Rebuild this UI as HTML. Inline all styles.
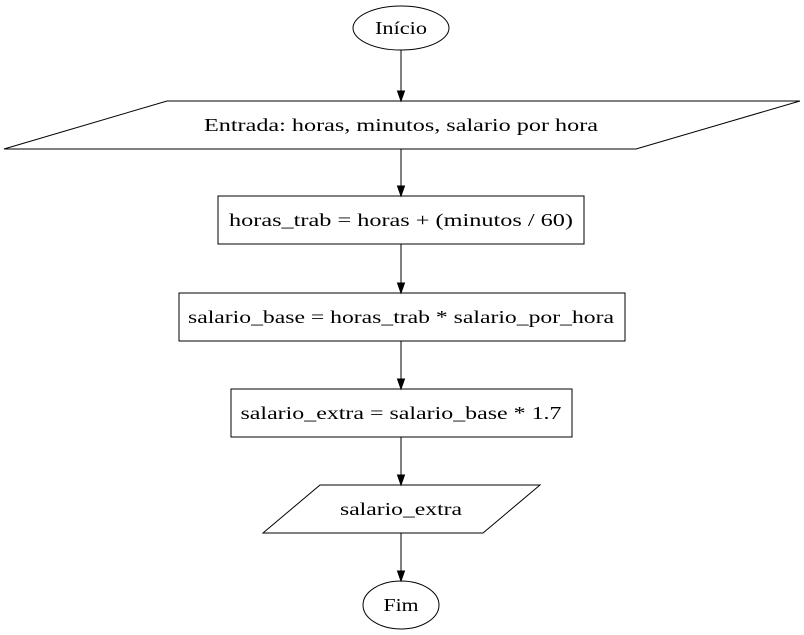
<!DOCTYPE html>
<html><head><meta charset="utf-8"><style>
html,body{margin:0;padding:0;background:#fff;}
svg{display:block;}
text{font-family:"Liberation Serif",serif;font-size:18px;fill:#000;}
</style></head><body>
<svg width="804" height="635" viewBox="0 0 804 635" xmlns="http://www.w3.org/2000/svg">
<g fill="none" stroke="#000" stroke-width="1">
<ellipse cx="401" cy="28" rx="48" ry="22"/>
<polygon points="167,101 800,101 636,149 4,149"/>
<rect x="218" y="196" width="366" height="48"/>
<rect x="179" y="293" width="446" height="48"/>
<rect x="231" y="389" width="341" height="48"/>
<polygon points="320,485 540,485 483,533 263,533"/>
<ellipse cx="401" cy="605" rx="38" ry="24"/>
<line x1="401" y1="50" x2="401" y2="91"/>
<line x1="401" y1="149" x2="401" y2="186"/>
<line x1="401" y1="244" x2="401" y2="283"/>
<line x1="401" y1="341" x2="401" y2="379"/>
<line x1="401" y1="437" x2="401" y2="475"/>
<line x1="401" y1="533" x2="401" y2="571"/>
</g>
<g fill="#000" stroke="#000">
<polygon points="397.5,91 404.5,91 401,101"/>
<polygon points="397.5,186 404.5,186 401,196"/>
<polygon points="397.5,283 404.5,283 401,293"/>
<polygon points="397.5,379 404.5,379 401,389"/>
<polygon points="397.5,475 404.5,475 401,485"/>
<polygon points="397.5,571 404.5,571 401,581"/>
</g>
<g text-anchor="middle">
<text x="401" y="34" textLength="52" lengthAdjust="spacingAndGlyphs">Início</text>
<text x="401" y="131" textLength="394" lengthAdjust="spacingAndGlyphs">Entrada: horas, minutos, salario por hora</text>
<text x="401" y="226" textLength="344" lengthAdjust="spacingAndGlyphs">horas_trab = horas + (minutos / 60)</text>
<text x="401" y="323" textLength="426" lengthAdjust="spacingAndGlyphs">salario_base = horas_trab * salario_por_hora</text>
<text x="401" y="419" textLength="321" lengthAdjust="spacingAndGlyphs">salario_extra = salario_base * 1.7</text>
<text x="401" y="515" textLength="122" lengthAdjust="spacingAndGlyphs">salario_extra</text>
<text x="401" y="611" textLength="35" lengthAdjust="spacingAndGlyphs">Fim</text>
</g>
</svg>
</body></html>
